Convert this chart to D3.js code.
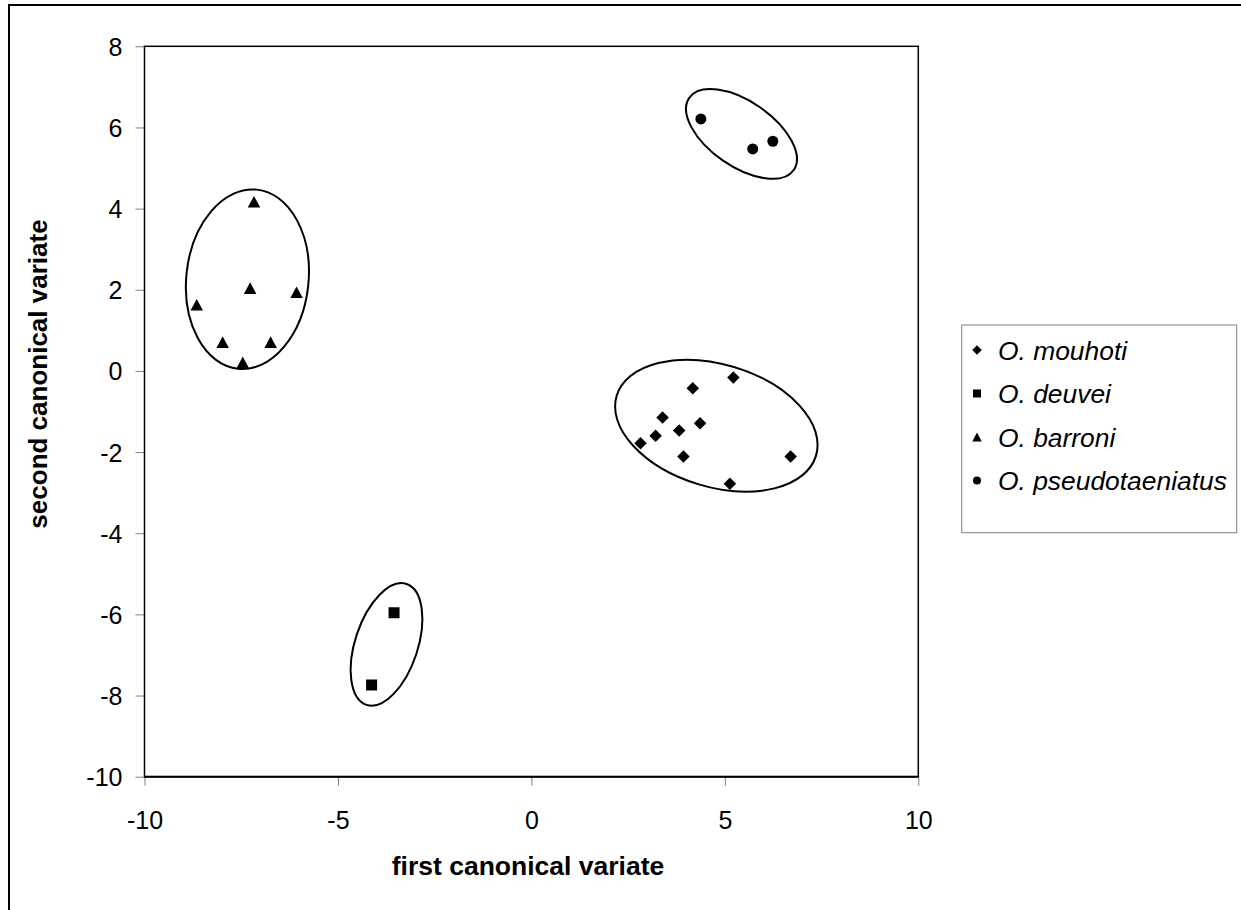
<!DOCTYPE html>
<html>
<head>
<meta charset="utf-8">
<script src="https://cdn.jsdelivr.net/npm/d3@7"></script>
<style>
  body { margin: 0; background: #fff; }
  svg { display: block; font-family: "Liberation Sans", Arial, sans-serif; }
</style>
</head>
<body>
<div id="chart"></div>
<script>
// species names (legend order)
var species = ["O. mouhoti", "O. deuvei", "O. barroni", "O. pseudotaeniatus"];

// canonical scores
var mouhotiX = [5.22, 4.17, 3.39, 4.36, 3.82, 3.21, 2.82, 3.93, 6.70, 5.13];
var mouhotiY = [-0.16, -0.43, -1.15, -1.29, -1.47, -1.60, -1.78, -2.11, -2.11, -2.78];
var deuveiX = [-3.55, -4.13];
var deuveiY = [-5.96, -7.74];
var barroniX = [-7.17, -7.27, -6.07, -8.65, -7.98, -6.74, -7.46];
var barroniY = [4.17, 2.04, 1.94, 1.63, 0.71, 0.71, 0.21];
var pseudoX = [4.38, 5.72, 6.24];
var pseudoY = [6.21, 5.47, 5.66];

// group ellipses (centre, half axes in data units, tilt in degrees)
var ellipseCx = [4.78, -3.745, -7.34, 5.43];
var ellipseCy = [-1.35, -6.74, 2.26, 5.84];
var ellipseRx = [2.69, 0.81, 1.58, 1.64];
var ellipseRy = [1.51, 1.57, 2.22, 0.80];
var ellipseAngle = [16.7, 18.3, 6, 34.6];

// axis ticks
var xTicks = [-10, -5, 0, 5, 10];
var yTicks = [-10, -8, -6, -4, -2, 0, 2, 4, 6, 8];

var width = 1241, height = 910;
var margin = {left: 144.5, top: 46.3, right: 918.3, bottom: 776.7};

var svg = d3.select("#chart").append("svg")
  .attr("width", width)
  .attr("height", height);

// outer chart frame (runs off the right and bottom edges)
svg.append("rect")
  .attr("x", 9).attr("y", 5)
  .attr("width", 1400).attr("height", 1100)
  .attr("fill", "none")
  .attr("stroke", "#000")
  .attr("stroke-width", 2);

var x = d3.scaleLinear().domain([-10, 10]).range([margin.left, margin.right]);
var y = d3.scaleLinear().domain([-10, 8]).range([margin.bottom, margin.top]);

// plain hyphen minus like the original
var fmt = function(d) { return String(d); };

// axes
var xAxis = svg.append("g")
  .attr("transform", "translate(0," + margin.bottom + ")")
  .call(d3.axisBottom(x).tickValues(xTicks).tickSize(9).tickPadding(26).tickFormat(fmt));
var yAxis = svg.append("g")
  .attr("transform", "translate(" + margin.left + ",0)")
  .call(d3.axisLeft(y).tickValues(yTicks).tickSize(9).tickPadding(13).tickFormat(fmt));

[xAxis, yAxis].forEach(function(a) {
  a.select(".domain").remove();
  a.selectAll(".tick line").attr("stroke", "#808080").attr("stroke-width", 1);
  a.selectAll(".tick text")
    .attr("fill", "#000")
    .style("font-size", "25px")
    .style("font-family", "'Liberation Sans', Arial, sans-serif");
});
yAxis.selectAll(".tick text").attr("dy", "0.36em");

// plot area box
svg.append("rect")
  .attr("x", margin.left).attr("y", margin.top)
  .attr("width", margin.right - margin.left)
  .attr("height", margin.bottom - margin.top)
  .attr("fill", "none")
  .attr("stroke", "#000")
  .attr("stroke-width", 1.5);
svg.append("line")
  .attr("x1", margin.left).attr("x2", margin.right)
  .attr("y1", margin.bottom).attr("y2", margin.bottom)
  .attr("stroke", "#000").attr("stroke-width", 2);

// axis titles
svg.append("text")
  .attr("x", 528)
  .attr("y", 875)
  .attr("text-anchor", "middle")
  .style("font-size", "26.5px")
  .style("font-weight", "bold")
  .text("first canonical variate");

svg.append("text")
  .attr("transform", "translate(47,374) rotate(-90)")
  .attr("text-anchor", "middle")
  .style("font-size", "26px")
  .style("font-weight", "bold")
  .text("second canonical variate");

// marker shapes, centred on their bounding box like the spreadsheet markers
var diamond = { draw: function(ctx, size) {
  var r = Math.sqrt(size) / 2;
  ctx.moveTo(0, -r); ctx.lineTo(r, 0); ctx.lineTo(0, r); ctx.lineTo(-r, 0); ctx.closePath();
}};
var square = { draw: function(ctx, size) {
  var r = Math.sqrt(size) / 2;
  ctx.rect(-r, -r, 2 * r, 2 * r);
}};
var triangle = { draw: function(ctx, size) {
  var r = Math.sqrt(size) / 2;
  ctx.moveTo(0, -r * 0.93); ctx.lineTo(r, r * 0.93); ctx.lineTo(-r, r * 0.93); ctx.closePath();
}};
var circle = { draw: function(ctx, size) {
  var r = Math.sqrt(size) / 2;
  ctx.moveTo(r, 0); ctx.arc(0, 0, r, 0, 2 * Math.PI);
}};
var shapes = [diamond, square, triangle, circle];
var markerSize = [12.5, 11, 12.5, 11];   // box width in px
var legendSize = [9.5, 8, 9.5, 8];

var groups = [
  d3.zip(mouhotiX, mouhotiY),
  d3.zip(deuveiX, deuveiY),
  d3.zip(barroniX, barroniY),
  d3.zip(pseudoX, pseudoY)
];

// ellipses
species.forEach(function(s, i) {
  var cx = x(ellipseCx[i]), cy = y(ellipseCy[i]);
  svg.append("ellipse")
    .attr("cx", 0).attr("cy", 0)
    .attr("rx", x(ellipseCx[i] + ellipseRx[i]) - cx)
    .attr("ry", cy - y(ellipseCy[i] + ellipseRy[i]))
    .attr("transform", "translate(" + cx + "," + cy + ") rotate(" + ellipseAngle[i] + ")")
    .attr("fill", "none")
    .attr("stroke", "#000")
    .attr("stroke-width", 2);
});

// points
groups.forEach(function(pts, i) {
  var sym = d3.symbol().type(shapes[i]).size(markerSize[i] * markerSize[i]);
  svg.append("g").selectAll("path")
    .data(pts)
    .enter()
    .append("path")
    .attr("d", sym)
    .attr("transform", function(d) { return "translate(" + x(d[0]) + "," + y(d[1]) + ")"; })
    .attr("fill", "#000");
});

// legend
var legendTop = 350, legendStep = 43.5;
svg.append("rect")
  .attr("x", 961.7).attr("y", 325)
  .attr("width", 275).attr("height", 207.7)
  .attr("fill", "#fff")
  .attr("stroke", "#808080")
  .attr("stroke-width", 1);

var legend = svg.selectAll(".legend")
  .data(species)
  .enter()
  .append("g")
  .attr("class", "legend")
  .attr("transform", function(d, i) { return "translate(0," + (legendTop + i * legendStep) + ")"; });

legend.append("path")
  .attr("d", function(d, i) { return d3.symbol().type(shapes[i]).size(legendSize[i] * legendSize[i])(); })
  .attr("transform", "translate(977,0)")
  .attr("fill", "#000");

legend.append("text")
  .attr("x", 998)
  .attr("dy", "0.36em")
  .style("font-size", "26.4px")
  .style("font-style", "italic")
  .text(function(d) { return d; });
</script>
</body>
</html>
